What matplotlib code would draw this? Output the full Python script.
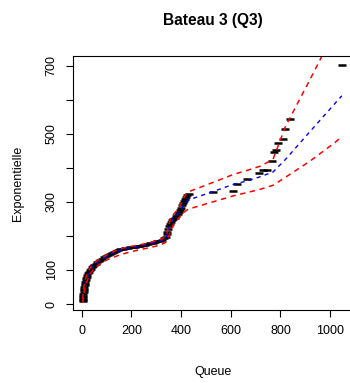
import matplotlib
matplotlib.use("Agg")
import matplotlib.pyplot as plt

plt.rcParams['font.family'] = ['Liberation Sans', 'DejaVu Sans']

# observed points: queue (x) vs exponential quantile (y)
queue = [4, 5, 5, 6, 6, 7, 8, 9, 10, 11, 12, 14, 15, 17, 19, 21, 23, 26, 29, 32,
         36, 40, 45, 50, 56, 62, 68, 75, 82, 90, 98, 106, 114, 122, 130, 138, 146,
         155, 165, 175, 185, 195, 205, 215, 225, 235, 245, 255, 265, 275, 285, 295,
         305, 315, 325, 333, 338, 342, 345, 348, 351, 354, 358, 363, 368, 374, 380,
         386, 391, 396, 400, 404, 408, 411, 414, 418, 424, 432,
         527, 608, 624, 665, 713, 730, 745, 765, 775, 781, 792, 809, 819, 839, 1049]
expo = [8, 12, 16, 20, 25, 30, 35, 40, 45, 50, 55, 60, 65, 70, 75, 80, 85, 90, 95, 100,
        104, 108, 112, 116, 119, 123, 126, 129, 133, 137, 140, 144, 148, 151, 154, 157, 159,
        161, 163, 165, 166, 167, 168, 169, 170, 171, 172, 174, 176, 178, 180, 182,
        184, 186, 189, 193, 198, 205, 212, 220, 228, 235, 241, 246, 250, 254, 259,
        264, 270, 276, 283, 290, 297, 304, 310, 315, 319, 322,
        328, 333, 353, 367, 384, 393, 394, 421, 446, 454, 474, 485, 515, 544, 703]

# fitted curve and envelope
fit_x = [4, 6, 9, 13, 19, 27, 37, 50, 66, 85, 105, 130, 160, 195, 235, 275, 315, 335,
         343, 350, 358, 368, 380, 392, 402, 412, 423, 430, 527, 611, 667, 718, 770,
         819, 919, 1020, 1047]
fit_y = [8, 22, 40, 58, 75, 90, 103, 114, 124, 133, 142, 151, 160, 166, 170, 177, 185, 191,
         200, 220, 238, 250, 258, 268, 280, 292, 300, 306, 330, 352, 362, 374, 388,
         424, 507, 590, 612]
upper = [14, 32, 52, 68, 84, 98, 110, 120, 129, 137, 146, 155, 163, 169, 174, 181, 189, 196,
         208, 232, 250, 262, 272, 284, 298, 314, 326, 330, 357, 381, 393, 405, 425,
         520, 660, 805, 845]
lower = [4, 14, 30, 46, 62, 78, 92, 104, 114, 123, 131, 138, 146, 153, 160, 166, 173, 180,
         185, 198, 215, 232, 244, 254, 262, 270, 276, 279, 300, 318, 328, 337, 349,
         372, 420, 475, 492]

fig = plt.figure(figsize=(3.5, 3.83), dpi=100)
ax = fig.add_axes([73 / 350, 73 / 383, 280 / 350, 254 / 383])

ax.plot(queue, expo, linestyle='none', marker='_', ms=6, mew=1.8, color='black')
ax.plot(fit_x, fit_y, color='blue', lw=1, ls=(0, (3, 3)))
ax.plot(fit_x, upper, color='red', lw=1.1, ls=(0, (3.5, 3)))
ax.plot(fit_x, lower, color='red', lw=1.1, ls=(0, (3.5, 3)))

ax.set_xlim(-35, 1092)
ax.set_ylim(-17.6, 729)

ax.set_xticks([0, 200, 400, 600, 800, 1000])
ax.set_yticks([0, 100, 200, 300, 400, 500, 600, 700])
ax.set_yticklabels(['0', '100', '', '300', '', '500', '', '700'], rotation=90, va='center')
ax.tick_params(axis='both', length=5, width=0.8, labelsize=9, color='black')
ax.tick_params(axis='x', pad=6)
ax.tick_params(axis='y', pad=6)
for s in ax.spines.values():
    s.set_linewidth(0.8)

fig.text(213 / 350, 1 - 21 / 383, 'Bateau 3 (Q3)', ha='center', va='center',
         fontsize=11.2, fontweight='bold')
fig.text(213 / 350, 1 - 372 / 383, 'Queue', ha='center', va='center', fontsize=9)
fig.text(18 / 350, 1 - 183 / 383, 'Exponentielle', ha='center', va='center',
         rotation=90, fontsize=9)

fig.savefig('out.png', dpi=100)
